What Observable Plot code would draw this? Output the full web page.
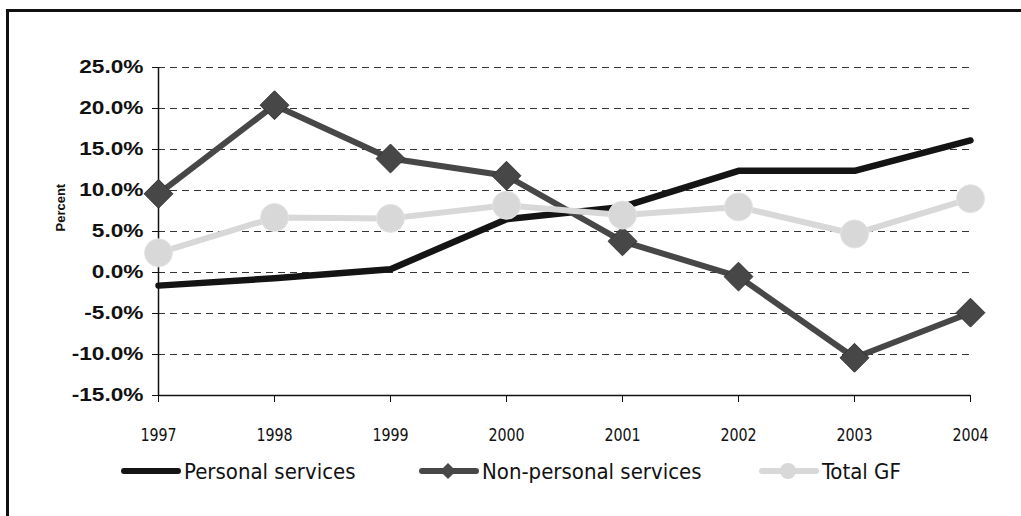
<!DOCTYPE html>
<html>
<head>
<meta charset="utf-8">
<script src="https://cdn.jsdelivr.net/npm/d3@7"></script>
<script src="https://cdn.jsdelivr.net/npm/@observablehq/plot@0.6"></script>
<style>
  html, body { margin: 0; padding: 0; background: #fff; }
  #wrap { position: relative; width: 1021px; height: 516px; overflow: hidden; background: #fff; }
  #chart { position: absolute; left: 0; top: 0; }
  #frame { position: absolute; left: 6px; top: 9px; width: 1100px; height: 600px;
           border-left: 3px solid #111; border-top: 3px solid #111; pointer-events: none; }
  #legend { position: absolute; top: 456px; left: 0; width: 1021px; height: 30px;
            font-family: "DejaVu Sans Condensed", "Liberation Sans Narrow", sans-serif;
            font-size: 22px; color: #111; }
  .item { position: absolute; top: 0; display: flex; align-items: center; height: 30px; }
  .item svg { display: block; }
  .item span { margin-left: 2px; }
</style>
</head>
<body>
<div id="wrap">
  <div id="chart"></div>
  <div id="legend"></div>
  <div id="frame"></div>
</div>
<script>
// ---- data ----
const years = [1997, 1998, 1999, 2000, 2001, 2002, 2003, 2004];
const personalServices = [-1.6, -0.7, 0.4, 6.5, 8.0, 12.4, 12.4, 16.1];
const nonPersonalServices = [9.6, 20.4, 13.9, 11.8, 3.8, -0.5, -10.4, -4.9];
const totalGF = [2.4, 6.7, 6.6, 8.2, 7.0, 8.0, 4.7, 9.0];
const yTicks = [-15, -10, -5, 0, 5, 10, 15, 20, 25];
const seriesNames = ["Personal services", "Non-personal services", "Total GF"];

const colPS = "#141414", colNPS = "#474747", colGF = "#d8d8d8";

const rows = (vals) => years.map((y, i) => ({year: y, value: vals[i]}));
const ps = rows(personalServices);
const nps = rows(nonPersonalServices);
const gf = rows(totalGF);

const chart = Plot.plot({
  width: 1021,
  height: 455,
  marginLeft: 158,
  marginRight: 51,
  marginTop: 67,
  marginBottom: 60,
  style: {background: "transparent", color: "#111", fontFamily: "Liberation Sans, Arial, sans-serif"},
  x: {domain: [1997, 2004], range: [158, 970]},
  y: {domain: [-15, 25]},
  marks: [
    Plot.gridY(yTicks.filter(d => d > -15), {stroke: "#333", strokeOpacity: 1, strokeWidth: 1, strokeDasharray: "7,5"}),
    Plot.ruleX([1997], {y1: -15, y2: 25, stroke: "#111", strokeWidth: 1.5}),
    Plot.ruleY([-15], {stroke: "#111", strokeWidth: 1.5}),
    Plot.axisY({ticks: yTicks, tickSize: 6, tickPadding: 9, tickFormat: d => d.toFixed(1) + "%",
                label: null, stroke: "#111"}),
    Plot.axisX({ticks: years, tickSize: 7, tickPadding: 26, tickFormat: d => String(d),
                label: null, stroke: "#111"}),
    Plot.text(["Percent"], {frameAnchor: "left", dx: -98, rotate: -90, fontSize: 13,
                            fontWeight: "bold", fill: "#111"}),
    // Personal services
    Plot.line(ps, {x: "year", y: "value", stroke: colPS, strokeWidth: 6.5, strokeLinecap: "round", strokeLinejoin: "round"}),
    // Non-personal services
    Plot.line(nps, {x: "year", y: "value", stroke: colNPS, strokeWidth: 6, strokeLinejoin: "round"}),
    Plot.dot(nps, {x: "year", y: "value", symbol: "diamond2", r: 13, fill: colNPS, stroke: "#333", strokeWidth: 1}),
    // Total GF
    Plot.line(gf, {x: "year", y: "value", stroke: colGF, strokeWidth: 6, strokeLinejoin: "round"}),
    Plot.dot(gf, {x: "year", y: "value", symbol: "circle", r: 14, fill: colGF, stroke: "#e4e4e4", strokeWidth: 1})
  ]
});
document.getElementById("chart").appendChild(chart);

// tick label typography (matched by content)
chart.querySelectorAll("text").forEach(t => {
  const s = t.textContent.trim();
  if (/%$/.test(s)) {
    t.style.fontSize = "18px";
    t.style.fontWeight = "bold";
    t.style.fontFamily = "Liberation Sans, Arial, sans-serif";
    const tr = t.getAttribute("transform") || "";
    t.setAttribute("transform", tr + " scale(1.26,1)");
  } else if (/^\d{4}$/.test(s)) {
    t.style.fontSize = "18px";
    t.style.fontFamily = "DejaVu Sans Condensed, Liberation Sans Narrow, sans-serif";
    const tr = t.getAttribute("transform") || "";
    t.setAttribute("transform", tr + " scale(0.88,1)");
  }
});

// ---- legend ----
const legend = document.getElementById("legend");
const legendItems = [
  {name: seriesNames[0], left: 120, color: colPS, marker: null},
  {name: seriesNames[1], left: 418, color: colNPS, marker: "diamond"},
  {name: seriesNames[2], left: 758, color: colGF, marker: "circle"}
];
for (const it of legendItems) {
  const div = document.createElement("div");
  div.className = "item";
  div.style.left = it.left + "px";
  let m = "";
  if (it.marker === "diamond") m = `<path d="M30,7 L38,15 L30,23 L22,15 Z" fill="${it.color}"/>`;
  if (it.marker === "circle") m = `<circle cx="30" cy="15" r="8" fill="${it.color}"/>`;
  div.innerHTML = `<svg width="62" height="30"><line x1="4" y1="15" x2="58" y2="15" stroke="${it.color}" stroke-width="6" stroke-linecap="round"/>${m}</svg><span>${it.name}</span>`;
  legend.appendChild(div);
}
</script>
</body>
</html>
